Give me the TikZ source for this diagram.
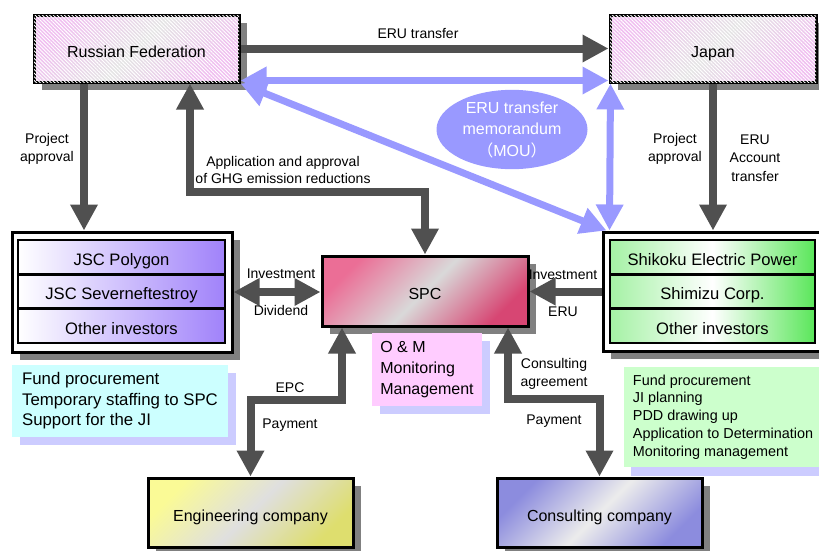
\documentclass[tikz,border=0pt]{standalone}
\usepackage{fontspec}
\setmainfont{Liberation Sans}
\newfontfamily\cjk{Noto Sans CJK JP}
\usetikzlibrary{arrows.meta,shapes.geometric,shadows,patterns,patterns.meta}
\definecolor{arrowgray}{RGB}{80,80,80}
\definecolor{bluec}{RGB}{153,153,255}
\definecolor{shadowgray}{RGB}{128,128,128}
\definecolor{pinkc}{RGB}{240,190,240}
\definecolor{midgray}{RGB}{228,228,228}
\definecolor{spcred}{RGB}{215,70,115}
\definecolor{spcpink}{RGB}{235,110,150}
\definecolor{purplerow}{RGB}{160,130,250}
\definecolor{greenrow}{RGB}{90,230,90}
\definecolor{yellowc}{RGB}{250,250,150}
\definecolor{olivec}{RGB}{222,222,110}
\definecolor{consp}{RGB}{140,140,222}
\definecolor{omfill}{RGB}{255,204,255}
\definecolor{lilac}{RGB}{204,204,255}
\definecolor{cyanc}{RGB}{204,255,255}
\definecolor{greenc}{RGB}{204,255,204}
\begin{document}
\begin{tikzpicture}[x=1pt,y=-1pt,
  big/.style={font=\fontsize{16}{19}\selectfont},
  rowfont/.style={font=\fontsize{16.6}{19}\selectfont},
  lab/.style={font=\fontsize{14}{18.5}\selectfont, align=center, inner sep=0pt},
  box/.style={draw=black, line width=3pt, rectangle, inner sep=0pt, big,
    text height=18.5pt, text depth=0.6pt,
    general shadow={fill=shadowgray, shadow xshift=8pt, shadow yshift=-8pt}},
  rowbox/.style={draw=black, line width=2.5pt, rectangle, inner sep=0pt, rowfont,
    text height=17pt, text depth=0.6pt, minimum height=34.3pt},
  hatch/.style={postaction={pattern={Lines[angle=-45,distance=2.6pt,line width=0.9pt]}, pattern color=white}},
  rfshade/.style={top color=pinkc, bottom color=pinkc, middle color=midgray, shading angle=45},
  textbox/.style={rectangle, inner sep=0pt, align=left,
    general shadow={fill=lilac, shadow xshift=8pt, shadow yshift=-8pt}},
  garrow/.style={draw=arrowgray, line width=8pt, -{Triangle[length=26pt,width=26pt]}},
  gdbl/.style={draw=arrowgray, line width=8pt, {Triangle[length=26pt,width=26pt]}-{Triangle[length=26pt,width=26pt]}},
  bdbl/.style={draw=bluec, line width=7pt, {Triangle[length=26pt,width=26pt]}-{Triangle[length=26pt,width=26pt]}}
]
\useasboundingbox (0,0) rectangle (819,550);

% main boxes
\node[box, rfshade, hatch, minimum width=205pt, minimum height=67pt] (rf) at (136.5,48.5) {Russian Federation};
\node[box, rfshade, hatch, minimum width=206pt, minimum height=67pt] (jp) at (713,48.5) {Japan};
\node[box, top color=spcpink, bottom color=spcred, middle color=gray!30, shading angle=45,
  minimum width=206pt, minimum height=70pt] (spc) at (425,291) {SPC};
\node[box, top color=yellowc, bottom color=olivec, middle color=gray!25, shading angle=45,
  minimum width=205pt, minimum height=69pt] (eng) at (250.5,512.5) {Engineering company};
\node[box, top color=consp, bottom color=consp, middle color=gray!15, shading angle=45,
  minimum width=205pt, minimum height=69pt] (cons) at (599.5,512.5) {Consulting company};

% investor groups
\node[box, fill=white, minimum width=220pt, minimum height=120pt] (poly) at (122,292) {};
\node[rowbox, left color=white, right color=purplerow, minimum width=207pt] (p1) at (121.5,257.2) {JSC Polygon};
\node[rowbox, left color=white, right color=purplerow, minimum width=207pt] (p2) at (121.5,291.5) {JSC Severneftestroy};
\node[rowbox, left color=white, right color=purplerow, minimum width=207pt] (p3) at (121.5,325.8) {Other investors};

\node[box, fill=white, minimum width=218pt, minimum height=119pt] (shik) at (712,291.5) {};
\node[rowbox, left color=greenrow!55!white, right color=greenrow, middle color=white, minimum width=205pt] (s1) at (712.5,257.2) {Shikoku Electric Power};
\node[rowbox, left color=greenrow!55!white, right color=greenrow, middle color=white, minimum width=205pt] (s2) at (712.5,291.5) {Shimizu Corp.};
\node[rowbox, left color=greenrow!55!white, right color=greenrow, middle color=white, minimum width=205pt] (s3) at (712.5,325.8) {Other investors};

% text boxes
\node[textbox, fill=omfill, minimum width=110pt, minimum height=73pt,
  font=\fontsize{16}{21}\selectfont] (om) at (427,369.5) {O \& M\\Monitoring\\Management};
\node[textbox, fill=cyanc, minimum width=216pt, minimum height=72pt,
  font=\fontsize{16.8}{20.5}\selectfont] (fundl) at (120,401) {Fund procurement\\Temporary staffing to SPC\\Support for the JI};
\node[textbox, fill=greenc, minimum width=198pt, minimum height=100pt,
  general shadow={fill=lilac, shadow xshift=7pt, shadow yshift=-9pt},
  font=\fontsize{14.4}{17.75}\selectfont] (fundr) at (723,417) {Fund procurement\\JI planning\\PDD drawing up\\Application to Determination\\Monitoring management};

% MOU ellipse
\node[ellipse, fill=bluec, text=white, minimum width=151pt, minimum height=75pt, inner sep=0pt,
  align=center, font=\fontsize{16}{21.5}\selectfont] (mou) at (512,129.5)
  {ERU transfer\\memorandum\\{\cjk （}MOU{\cjk ）}};

% connectors
\draw[garrow] (rf.east) -- (jp.west);
\draw[bdbl] ([yshift=3pt]rf.south east) -- ([yshift=3pt]jp.south west);
\draw[bdbl] (rf.south east) -- ([xshift=5pt]shik.north west);
\draw[bdbl] ([xshift=2pt]jp.south west) -- ([xshift=8pt]shik.north west);
\draw[garrow] ([xshift=-52.5pt]rf.south) -- ([xshift=-52.5pt]rf.south |- poly.north);
\draw[gdbl] (spc.north) -- ++(0,-63) -| ([xshift=53.5pt]rf.south);
\draw[gdbl] (poly.east) -- (poly.east -| spc.west);
\draw[garrow] (shik.west) -- (shik.west -| spc.east);
\draw[garrow] (jp.south) -- (jp.south |- shik.north);
\draw[gdbl] (eng.north) -- ++(0,-77) -| ([xshift=-83pt]spc.south);
\draw[gdbl] (cons.north) -- ++(0,-78) -| ([xshift=83pt]spc.south);

% labels
\node[lab] (leru) at (418,33) {ERU transfer};
\node[lab] (lpa1) at (47,149) {Project\\approval};
\node[lab, font=\fontsize{14}{16.5}\selectfont] (lapp) at (283,170) {Application and approval\\of GHG emission reductions};
\node[lab] (linv1) at (281,274) {Investment};
\node[lab] (ldiv) at (281,310) {Dividend};
\node[lab] (linv2) at (563,275) {Investment};
\node[lab] (leru2) at (563,312) {ERU};
\node[lab] (lpa2) at (675,149) {Project\\approval};
\node[lab] (lacc) at (755,158) {ERU\\Account\\transfer};
\node[lab] (lepc) at (290,388) {EPC};
\node[lab] (lpay1) at (290,425) {Payment};
\node[lab, font=\fontsize{14}{18}\selectfont] (lcons) at (554,374) {Consulting\\agreement};
\node[lab] (lpay2) at (554,421) {Payment};
\end{tikzpicture}
\end{document}
